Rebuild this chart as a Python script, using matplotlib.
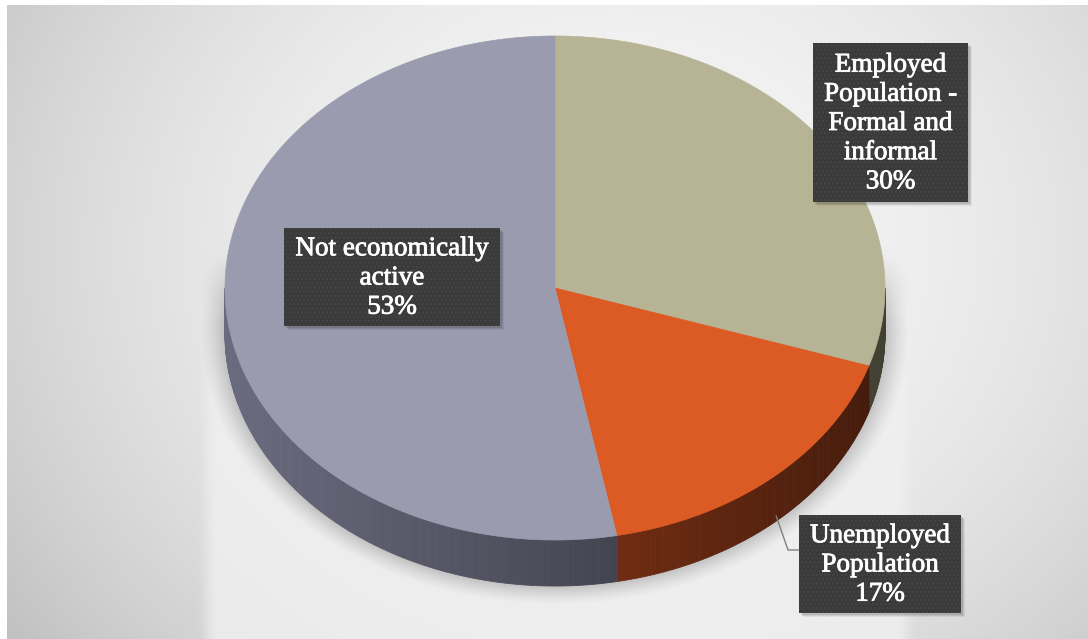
import numpy as np
import matplotlib.pyplot as plt
import matplotlib.patheffects as pe
from matplotlib.patches import Polygon, Rectangle

plt.rcParams["font.family"] = "serif"
plt.rcParams["font.serif"] = ["Liberation Serif", "DejaVu Serif"]

# population split, going clockwise from 12 o'clock
labels = ["Employed\nPopulation -\nFormal and\ninformal",
          "Unemployed\nPopulation",
          "Not economically\nactive"]
shares = [30, 17, 53]

top_colors = ["#b6b495", "#dc5a23", "#9a9bae"]
side_colors = [(118, 116, 92), (122, 48, 20), (74, 74, 88)]

W, H = 1088, 639
fig = plt.figure(figsize=(W / 100, H / 100), dpi=100)
ax = fig.add_axes([0, 0, 1, 1])
ax.set_xlim(0, W)
ax.set_ylim(H, 0)
ax.axis("off")

# pie geometry (pixels)
cx, cy, rx, ry, depth = 555, 288, 330, 252, 46


def sm(t):
    t = np.clip(t, 0, 1)
    return t * t * (3 - 2 * t)


# ---- background: soft radial grey, light floor and pie shadow
yy, xx = np.mgrid[0:H, 0:W] + 0.5
r2 = ((xx - 620) / 720) ** 2 + ((yy - 250) / 620) ** 2
bg = 246 - 48 * r2

floor = sm((xx - 196) / 22) * sm((918 - xx) / 22) * sm((yy - 270) / 120)
bg = bg * (1 - 0.8 * floor) + 240 * 0.8 * floor

# shadow hugging the pie silhouette, a bit wider and lower than the pie
d_top = np.sqrt(((xx - cx) / rx) ** 2 + ((yy - cy) / ry) ** 2) - 1
d_bot = np.sqrt(((xx - cx) / rx) ** 2 + ((yy - cy - depth) / ry) ** 2) - 1
dist = np.minimum(d_top, d_bot) * 320
sh = np.clip(1 - dist / 24, 0, 1) ** 1.3 * sm((yy - 240) / 90)
bg = bg - 45 * sh * (dist > 0)

bg[:5, :] = 255
bg[:, :7] = 255
img = np.clip(bg, 0, 255).astype(np.uint8)
ax.imshow(np.dstack([img] * 3), extent=(0, W, H, 0), zorder=0)


def rim(theta):
    t = np.radians(theta)
    return cx + rx * np.sin(t), cy - ry * np.cos(t)


# ---- side wall, front half only, shaded by angle
bounds = np.concatenate([[0], np.cumsum(shares)]) * 3.6
for i in range(len(shares)):
    a, b = max(bounds[i], 90), min(bounds[i + 1], 270)
    if a >= b:
        continue
    th = np.linspace(a, b, int(b - a) * 2 + 2)
    for t0, t1 in zip(th[:-1], th[1:]):
        f = 1 - 0.45 * np.sin(np.radians((t0 + t1) / 2))
        col = np.clip(np.array(side_colors[i]) * f / 255, 0, 1)
        x0, y0 = rim(t0)
        x1, y1 = rim(t1)
        ax.add_patch(Polygon([(x0, y0), (x1, y1), (x1, y1 + depth), (x0, y0 + depth)],
                             closed=True, fc=col, ec=col, lw=0.6, zorder=2))

# ---- top face wedges
for i in range(len(shares)):
    th = np.linspace(bounds[i], bounds[i + 1], 200)
    px, py = rim(th)
    pts = [(cx, cy)] + list(zip(px, py))
    ax.add_patch(Polygon(pts, closed=True, fc=top_colors[i], ec=top_colors[i],
                         lw=0.5, zorder=3))

# ---- data labels
boxes = [(890.5, 122.5, 155, 159), (880, 564, 162, 98), (392, 277, 216, 98)]
for i, (bx, by, bw, bh) in enumerate(boxes):
    x0, y0 = bx - bw / 2, by - bh / 2
    for k, a in enumerate([0.10, 0.08, 0.06]):
        ax.add_patch(Rectangle((x0 + 2 + k, y0 + 2 + k), bw, bh, fc="black",
                               ec="none", alpha=a, zorder=5))
    ax.add_patch(Rectangle((x0, y0), bw, bh, fc="#3a3a3a", ec="#454545",
                           lw=0, hatch="....", zorder=6))
    ax.text(bx, by + 1, f"{labels[i]}\n{shares[i]}%", ha="center", va="center",
            color="white", fontsize=19.5, linespacing=1.22, zorder=7,
            path_effects=[pe.withStroke(linewidth=0.6, foreground="white")])

# leader line for the unemployed slice
tm = (bounds[1] + bounds[2]) / 2
lx, ly = rim(tm)
bx, by, bw, bh = boxes[1]
ax.plot([lx + 3, bx - bw / 2 - 11, bx - bw / 2], [ly + depth * 0.85, 550, 550],
        color="#808080", lw=1, zorder=4)

fig.savefig("out.png", dpi=100)
